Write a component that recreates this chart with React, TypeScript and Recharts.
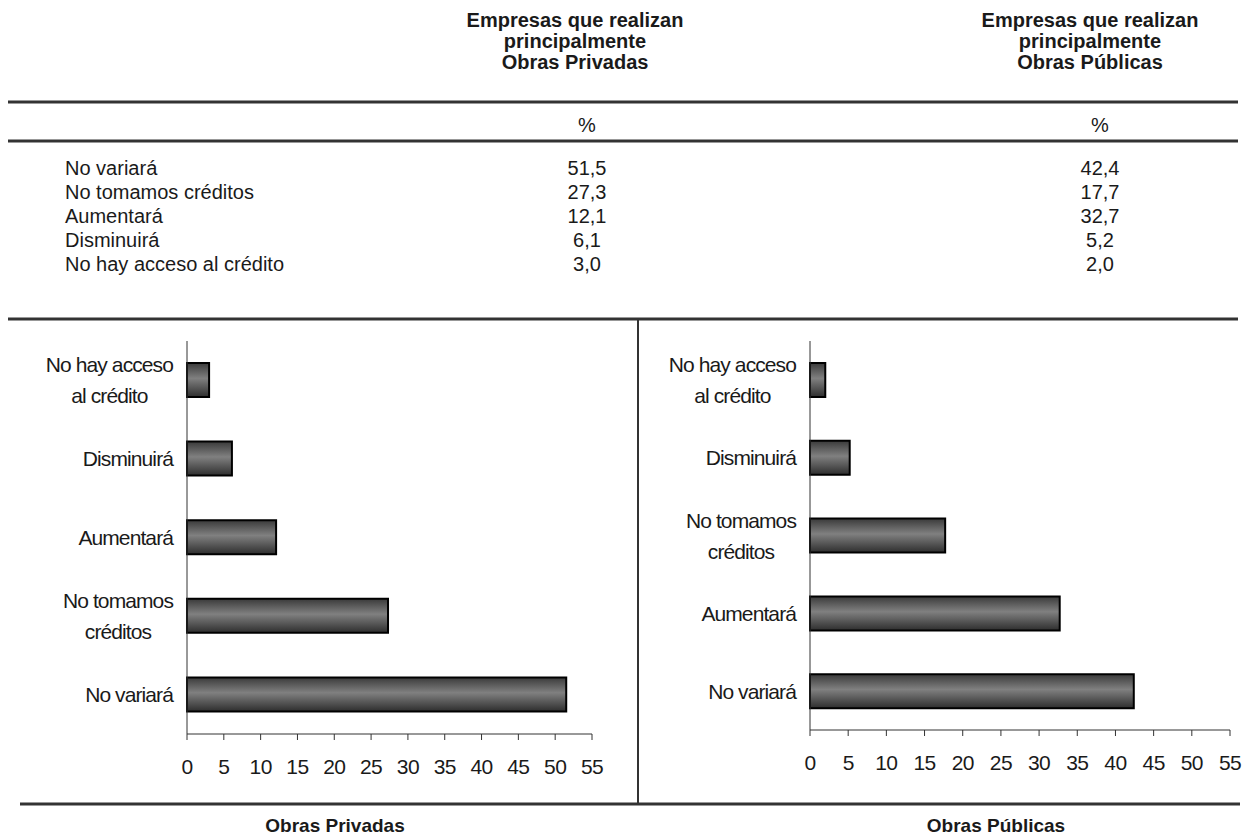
import React from 'react';
import { BarChart, Bar, XAxis, YAxis } from 'recharts';

// ---------- data ----------
const tableRows = ['No variará', 'No tomamos créditos', 'Aumentará', 'Disminuirá', 'No hay acceso al crédito'];
const tablePrivadas = ['51,5', '27,3', '12,1', '6,1', '3,0'];
const tablePublicas = ['42,4', '17,7', '32,7', '5,2', '2,0'];

const privadasCats = ['No hay acceso\nal crédito', 'Disminuirá', 'Aumentará', 'No tomamos\ncréditos', 'No variará'];
const privadasVals = [3.0, 6.1, 12.1, 27.3, 51.5];
const publicasCats = ['No hay acceso\nal crédito', 'Disminuirá', 'No tomamos\ncréditos', 'Aumentará', 'No variará'];
const publicasVals = [2.0, 5.2, 17.7, 32.7, 42.4];
const xTicks = [0, 5, 10, 15, 20, 25, 30, 35, 40, 45, 50, 55];

const headerLines = ['Empresas que realizan', 'principalmente'];
const privTitle = 'Obras Privadas';
const pubTitle = 'Obras Públicas';

const privData = privadasCats.map((c, i) => ({ cat: c, v: privadasVals[i] }));
const pubData = publicasCats.map((c, i) => ({ cat: c, v: publicasVals[i] }));

const FONT = '"Liberation Sans", Arial, Helvetica, sans-serif';
const TXT = '#1a1a1a';
const LINE = '#333';

let ctx: CanvasRenderingContext2D | null = null;
function measure(s: string, fs: number, ls: number) {
  if (!ctx) ctx = document.createElement('canvas').getContext('2d');
  if (!ctx) return s.length * fs * 0.5;
  ctx.font = `${fs}px "Liberation Sans", Arial, sans-serif`;
  return ctx.measureText(s).width + ls * s.length;
}

const Y_FS = 21;
const Y_LS = -0.9;
const YTick = (props: any) => {
  const { x, y, payload } = props;
  const lines = String(payload.value).split('\n');
  const widths = lines.map((l) => measure(l, Y_FS, Y_LS));
  const maxW = Math.max(...widths);
  const gap = 31;
  const n = lines.length;
  return (
    <g>
      {lines.map((l, i) => {
        const cy = y + (i - (n - 1) / 2) * gap;
        return (
          <text
            key={i}
            x={n > 1 ? x - maxW / 2 : x}
            y={cy + 7.5}
            textAnchor={n > 1 ? 'middle' : 'end'}
            fontFamily={FONT}
            fontSize={Y_FS}
            letterSpacing={Y_LS}
            fill={TXT}
          >
            {l}
          </text>
        );
      })}
    </g>
  );
};

const XTick = (props: any) => {
  const { x, y, payload } = props;
  return (
    <text x={x} y={y + 34} textAnchor="middle" fontFamily={FONT} fontSize={21} letterSpacing={-0.6} fill={TXT}>
      {payload.value}
    </text>
  );
};

const Grad = ({ id }: { id: string }) => (
  <defs>
    <linearGradient id={id} x1="0" y1="0" x2="0" y2="1">
      <stop offset="0%" stopColor="#3a3a3a" />
      <stop offset="45%" stopColor="#808080" />
      <stop offset="100%" stopColor="#2e2e2e" />
    </linearGradient>
  </defs>
);

function Panel({ data, left, width, yw, mr, xh, gid }: any) {
  return (
    <div style={{ position: 'absolute', left, top: 318 }}>
      <BarChart
        width={width}
        height={480}
        data={data}
        layout="vertical"
        margin={{ top: 23, right: mr, bottom: 0, left: 0 }}
        barCategoryGap={0}
      >
        <Grad id={gid} />
        <XAxis
          type="number"
          domain={[0, 55]}
          ticks={xTicks}
          interval={0}
          height={xh}
          tickSize={6}
          tickMargin={0}
          axisLine={{ stroke: LINE, strokeWidth: 1 }}
          tickLine={{ stroke: LINE, strokeWidth: 1 }}
          tick={<XTick />}
        />
        <YAxis
          type="category"
          dataKey="cat"
          width={yw}
          tickSize={0}
          tickMargin={14}
          tickLine={false}
          axisLine={{ stroke: LINE, strokeWidth: 1 }}
          tick={<YTick />}
          interval={0}
        />
        <Bar dataKey="v" barSize={34} fill={`url(#${gid})`} stroke="#000" strokeWidth={2} isAnimationActive={false} />
      </BarChart>
    </div>
  );
}

export default function App() {
  const rowY = (i: number) => 168 + i * 24;
  return (
    <div style={{ position: 'absolute', left: 0, top: 0, width: 1246, height: 838, background: '#fff', overflow: 'hidden' }}>
      <svg width={1246} height={838} style={{ position: 'absolute', left: 0, top: 0 }}>
        {[{ cx: 575, t: privTitle }, { cx: 1090, t: pubTitle }].map((h, k) => (
          <g key={k}>
            {[...headerLines, h.t].map((s, i) => (
              <text key={i} x={h.cx} y={20 + i * 21 + 7} textAnchor="middle" fontFamily={FONT} fontWeight="bold" fontSize={20} fill={TXT}>
                {s}
              </text>
            ))}
          </g>
        ))}
        <line x1={8} x2={1238} y1={102} y2={102} stroke={LINE} strokeWidth={3} />
        <text x={587} y={132} textAnchor="middle" fontFamily={FONT} fontSize={20} fill={TXT}>%</text>
        <text x={1100} y={132} textAnchor="middle" fontFamily={FONT} fontSize={20} fill={TXT}>%</text>
        <line x1={8} x2={1238} y1={141} y2={141} stroke={LINE} strokeWidth={3} />
        {tableRows.map((r, i) => (
          <g key={r}>
            <text x={65} y={rowY(i) + 7} fontFamily={FONT} fontSize={20} fill={TXT}>{r}</text>
            <text x={587} y={rowY(i) + 7} textAnchor="middle" fontFamily={FONT} fontSize={20} fill={TXT}>{tablePrivadas[i]}</text>
            <text x={1100} y={rowY(i) + 7} textAnchor="middle" fontFamily={FONT} fontSize={20} fill={TXT}>{tablePublicas[i]}</text>
          </g>
        ))}
        <line x1={8} x2={1238} y1={319} y2={319} stroke={LINE} strokeWidth={3} />
        <line x1={638} x2={638} y1={319} y2={804} stroke={LINE} strokeWidth={2} />
        <line x1={20} x2={1240} y1={804} y2={804} stroke={LINE} strokeWidth={3} />
        <text x={335} y={832} textAnchor="middle" fontFamily={FONT} fontWeight="bold" fontSize={19} fill={TXT}>{privTitle}</text>
        <text x={996} y={832} textAnchor="middle" fontFamily={FONT} fontWeight="bold" fontSize={19} fill={TXT}>{pubTitle}</text>
      </svg>
      <Panel data={privData} left={0} width={620} yw={187} mr={28} xh={64} gid="gPriv" />
      <Panel data={pubData} left={640} width={606} yw={170} mr={16} xh={68} gid="gPub" />
    </div>
  );
}
